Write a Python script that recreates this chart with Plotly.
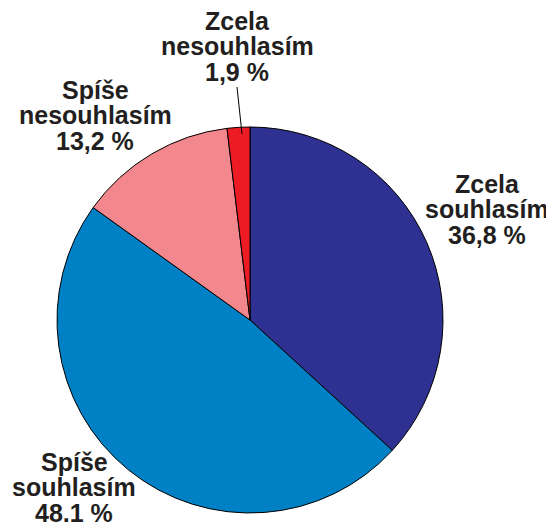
import plotly.graph_objects as go

# Data
categories = ["Zcela souhlasím", "Spíše souhlasím", "Spíše nesouhlasím", "Zcela nesouhlasím"]
label_lines = [["Zcela", "souhlasím"], ["Spíše", "souhlasím"], ["Spíše", "nesouhlasím"], ["Zcela", "nesouhlasím"]]
values = [36.8, 48.1, 13.2, 1.9]
colors = ["#2E3192", "#0081C6", "#F2888E", "#ED1C24"]

# The page body has an 8px margin; figure is sized to fit the window
OFF = 8
W, H = 554 - OFF, 522 - OFF
# label placement in window pixels (centre x, first baseline y) - layout only
label_pos = [(487, 192), (74, 470), (95, 98), (237, 29)]
line_gap = 25.5
font_size = 25

def px2x(px):
    return (px - OFF) / W

def px2y(py):
    return (H - (py - OFF)) / H

fig = go.Figure()
cx, cy, r = 250, 320, 193
fig.add_trace(go.Pie(
    labels=categories, values=values, sort=False, direction="clockwise", rotation=0,
    marker=dict(colors=colors, line=dict(color="#000000", width=1)),
    textinfo="none", hoverinfo="label+percent", showlegend=False,
    domain=dict(x=[px2x(cx - r), px2x(cx + r)], y=[px2y(cy + r), px2y(cy - r)]),
))

annotations = []
for lines, v, (px, py) in zip(label_lines, values, label_pos):
    all_lines = lines + [f"{v:.1f} %".replace(".", ",")]
    for i, t in enumerate(all_lines):
        b = py + i * line_gap
        annotations.append(dict(
            text=f"<b>{t}</b>", x=px2x(px), y=px2y(b - 8.5), xref="paper", yref="paper",
            xanchor="center", yanchor="middle", showarrow=False,
            font=dict(family="Liberation Sans, Arial, sans-serif", size=font_size, color="#231F20"),
        ))

fig.add_shape(type="line", xref="paper", yref="paper",
              x0=px2x(237), y0=px2y(87), x1=px2x(242), y1=px2y(134),
              line=dict(color="#000000", width=1))

fig.update_layout(
    width=W, height=H, margin=dict(l=0, r=0, t=0, b=0),
    paper_bgcolor="white", plot_bgcolor="white",
    annotations=annotations,
)
fig.write_html("out.html")
